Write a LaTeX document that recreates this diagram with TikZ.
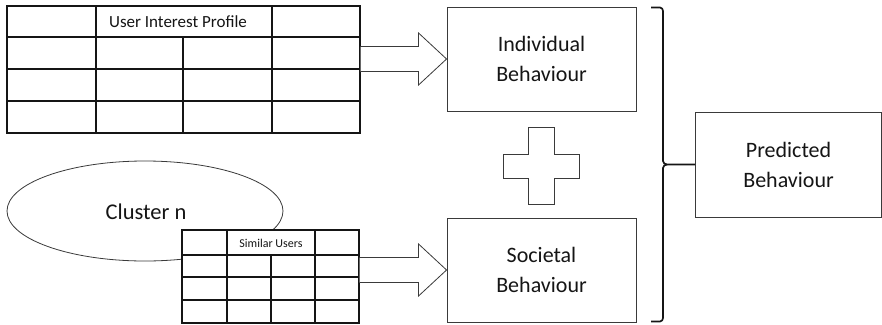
\documentclass[tikz,border=0pt]{standalone}
\usepackage{fontspec}
\setmainfont{Carlito}
\usetikzlibrary{shapes.geometric,calc}
\definecolor{ink}{HTML}{151515}
\definecolor{edge}{HTML}{3A3A3A}
\tikzset{
  gridline/.style={draw=ink, line width=1.3pt},
  tablebox/.style={draw=ink, line width=1.3pt, fill=white, inner sep=0pt},
  behaviour/.style={draw=edge, line width=0.9pt, inner sep=0pt, align=center,
    font=\fontsize{22}{30}\selectfont, text=ink},
  blockarrow/.style={draw=edge, line width=0.8pt, fill=white, line join=miter},
}
% block arrow from #1 (start of shaft) to #2 (tip)
\newcommand\blockarrowpath[2]{%
  \draw[blockarrow] ($#1+(0,-12.5)$) -- ($#2+(-28,-12.5)$) -- ($#2+(-28,-26)$) -- #2
    -- ($#2+(-28,26)$) -- ($#2+(-28,12.5)$) -- ($#1+(0,12.5)$);}
\begin{document}
\begin{tikzpicture}[x=1pt,y=-1pt]
\useasboundingbox (0,0) rectangle (882,324);

% user interest profile table
\node[tablebox, minimum width=353pt, minimum height=127pt] (uip) at (183.5,69.5) {};
\draw[gridline] (7,37) -- (360,37) (7,69) -- (360,69) (7,101) -- (360,101);
\draw[gridline] (96,6) -- (96,133) (272,6) -- (272,133) (183,37) -- (183,133);
\node[font=\fontsize{17}{20}\selectfont, text=ink] (uiptitle) at (178,22) {User Interest Profile};

% cluster and its similar users table
\node[ellipse, draw=edge, line width=0.8pt, minimum width=276pt, minimum height=100pt,
  inner sep=0pt] (cluster) at (145,211) {};
\node[font=\fontsize{22.5}{24}\selectfont, text=ink] (clustertext) at (146,212) {Cluster n};
\node[tablebox, minimum width=177pt, minimum height=93pt] (sim) at (270.5,276.5) {};
\draw[gridline] (182,255) -- (359,255) (182,277) -- (359,277) (182,300) -- (359,300);
\draw[gridline] (227,230) -- (227,323) (315,230) -- (315,323) (271,255) -- (271,323);
\node[font=\fontsize{12}{14}\selectfont, text=ink] (simtitle) at (271,243) {Similar Users};

% behaviour boxes
\node[behaviour, minimum width=189pt, minimum height=104pt] (ind) at (541.5,59) {Individual\\Behaviour};
\node[behaviour, minimum width=189pt, minimum height=104pt] (soc) at (541.5,270) {Societal\\Behaviour};
\node[behaviour, minimum width=186pt, minimum height=105pt] (pred) at (788.5,164.5) {Predicted\\Behaviour};

% block arrows from tables to behaviours
\coordinate (arrowindstart) at (uip.east |- ind.west);
\coordinate (arrowsocstart) at (sim.east |- soc.west);
\blockarrowpath{(arrowindstart)}{(ind.west)}
\blockarrowpath{(arrowsocstart)}{(soc.west)}

% plus sign between the behaviours
\coordinate (plus) at (541,166);
\draw[draw=edge, line width=1pt, fill=white]
  ($(plus)+(-13,-39)$) -- ($(plus)+(13,-39)$) -- ($(plus)+(13,-12)$) -- ($(plus)+(38,-12)$)
  -- ($(plus)+(38,12)$) -- ($(plus)+(13,12)$) -- ($(plus)+(13,38)$) -- ($(plus)+(-13,38)$)
  -- ($(plus)+(-13,12)$) -- ($(plus)+(-38,12)$) -- ($(plus)+(-38,-12)$) -- ($(plus)+(-13,-12)$) -- cycle;

% bracket joining both behaviours into the prediction
\coordinate (brtop) at (651,7.5);
\coordinate (brbot) at (651,321.5);
\draw[draw=ink, line width=1.7pt, line join=round]
  (brtop) -- (660,7.5) to[out=0,in=90] (663,11) -- (663,161)
  to[out=-90,in=180] (667,164.5) -- (pred.west);
\draw[draw=ink, line width=1.7pt, line join=round]
  (brbot) -- (660,321.5) to[out=0,in=-90] (663,318) -- (663,168)
  to[out=90,in=180] (667,164.5);
\end{tikzpicture}
\end{document}
